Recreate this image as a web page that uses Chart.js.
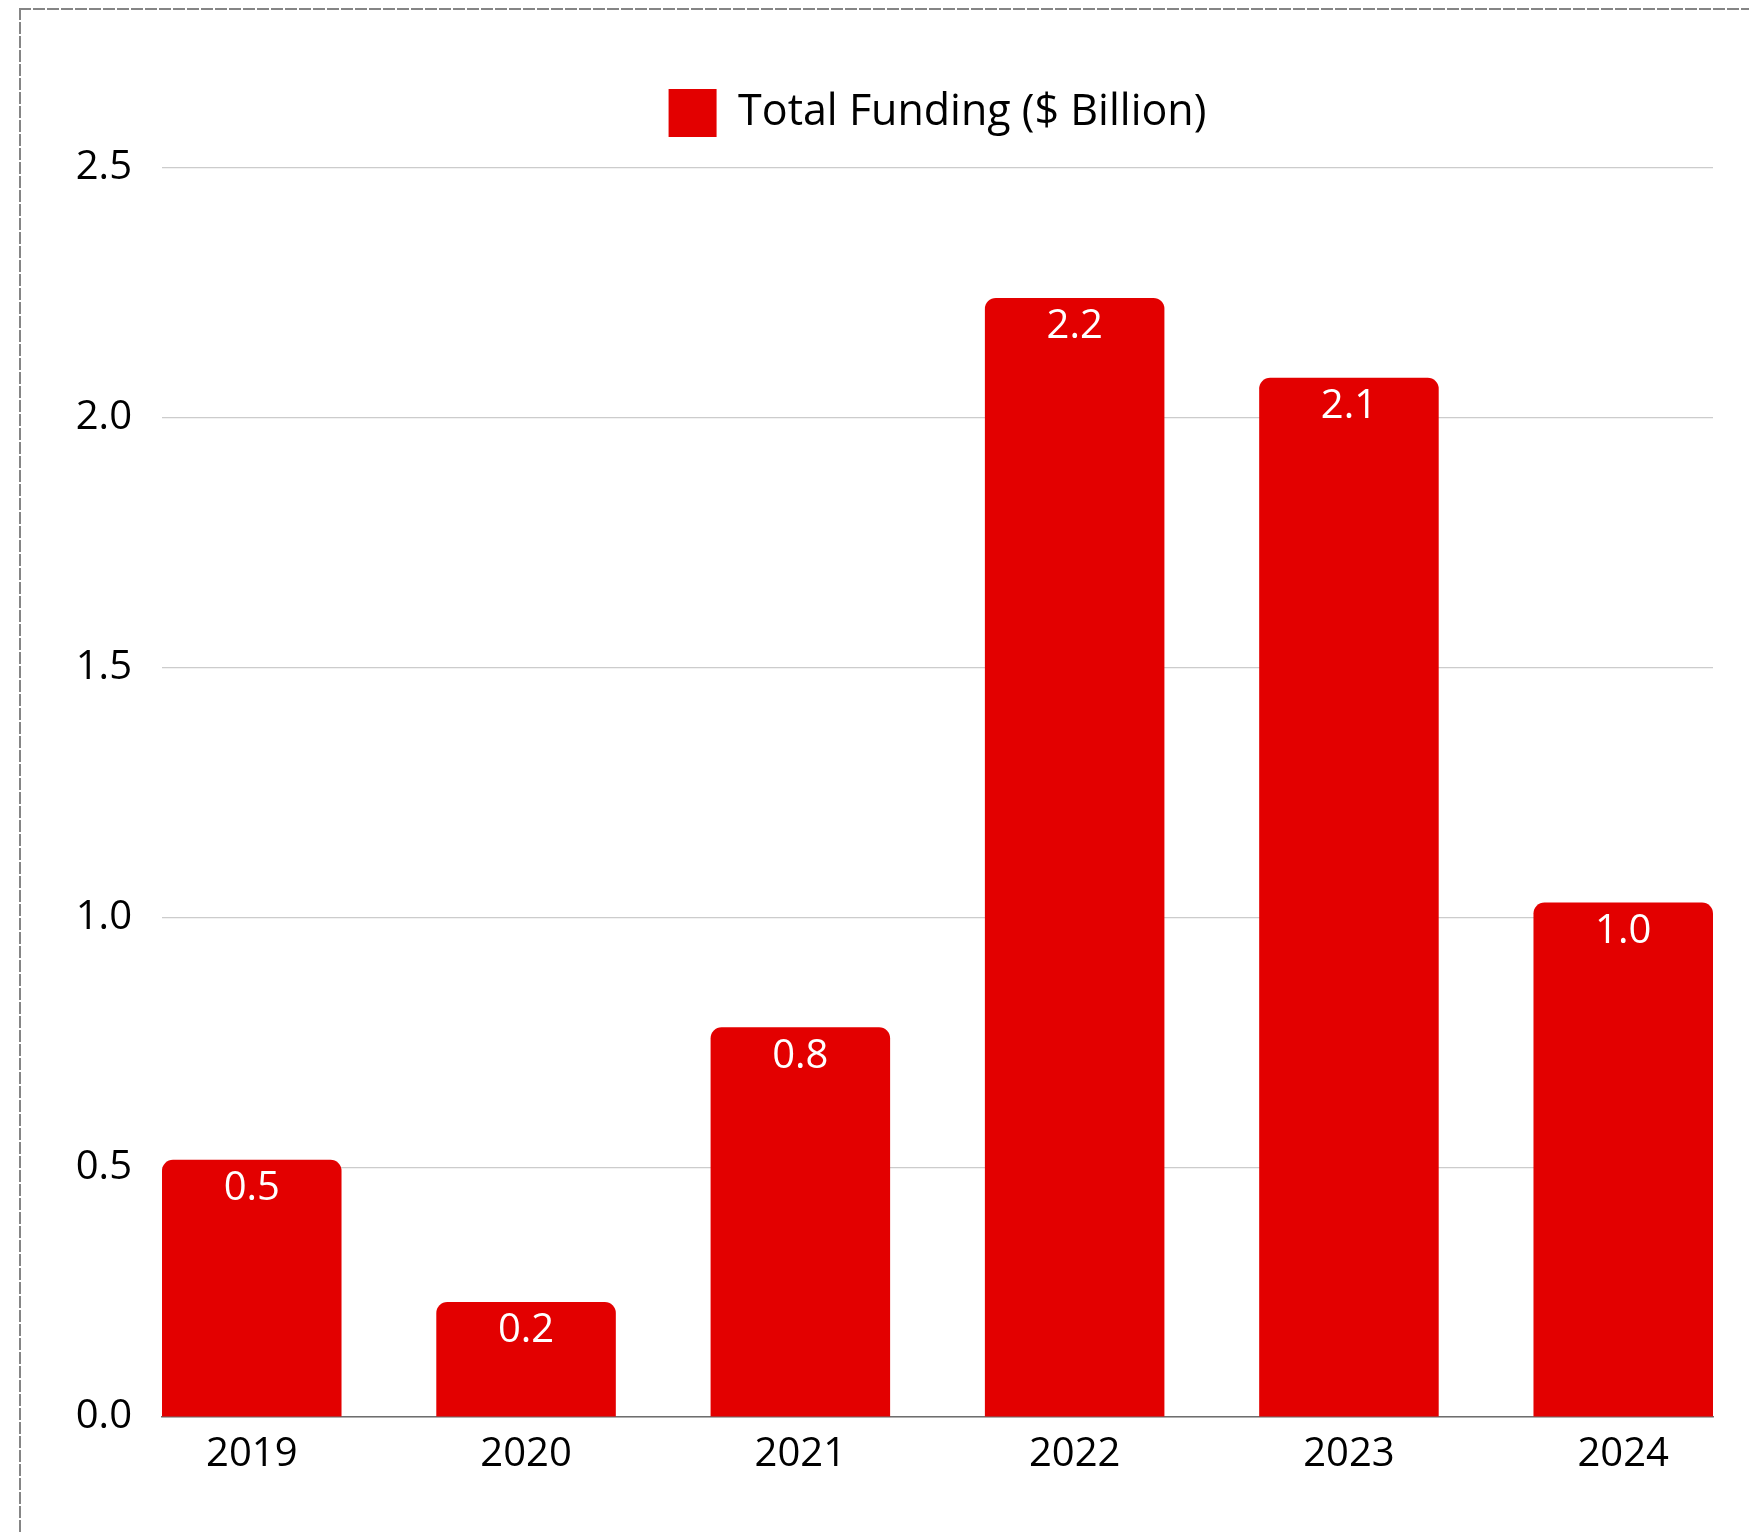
<!DOCTYPE html>
<html>
<head>
<meta charset="utf-8">
<script src="https://cdn.jsdelivr.net/npm/chart.js@4/dist/chart.umd.min.js"></script>
<style>
  html, body { margin: 0; padding: 0; background: #ffffff; width: 1749px; height: 1534px; overflow: hidden; }
  .edge { position: absolute; }
  #edgeTop { left: 19px; top: 8px; width: 1730px; height: 2px;
    background: repeating-linear-gradient(to right, #858585 0 12px, transparent 12px 14px); }
  #edgeLeft { left: 19px; top: 8px; width: 2px; height: 1526px;
    background: repeating-linear-gradient(to bottom, #858585 0 12px, transparent 12px 14px); }
  #chart { position: absolute; left: 0; top: 0; }
</style>
</head>
<body>
<div class="edge" id="edgeTop"></div>
<div class="edge" id="edgeLeft"></div>
<canvas id="chart" width="1749" height="1534"></canvas>
<script>
// Annual funding totals, in billions of dollars
const years = ['2019', '2020', '2021', '2022', '2023', '2024'];
const funding = [0.515, 0.23, 0.78, 2.24, 2.08, 1.03];
const yTicks = [0, 0.5, 1.0, 1.5, 2.0, 2.5];
const seriesLabel = 'Total Funding ($ Billion)';

const FONT = '"Open Sans", "Noto Sans", sans-serif';
const RED = '#e30000';
const BAR_FRACTION = 0.6545;   // bar width relative to the year spacing
const LEGEND_LIFT = 21;        // extra gap between the legend and the plot

// Writes each bar's value in white just inside its top edge
const valueLabels = {
  id: 'valueLabels',
  afterDatasetsDraw(chart) {
    const ctx = chart.ctx;
    const meta = chart.getDatasetMeta(0);
    ctx.save();
    ctx.fillStyle = '#ffffff';
    ctx.font = '40px ' + FONT;
    ctx.textAlign = 'center';
    ctx.textBaseline = 'middle';
    meta.data.forEach((bar, i) => {
      ctx.fillText(funding[i].toFixed(1), bar.x, bar.y + 29);
    });
    ctx.restore();
  }
};

// Raises the legend a little above the top of the plot area
const legendLift = {
  id: 'legendLift',
  afterLayout(chart) {
    if (chart.legend) {
      chart.legend.top -= LEGEND_LIFT;
      chart.legend.bottom -= LEGEND_LIFT;
    }
  }
};

new Chart(document.getElementById('chart'), {
  type: 'bar',
  data: {
    datasets: [{
      label: seriesLabel,
      data: years.map((y, i) => ({ x: i, y: funding[i] })),
      backgroundColor: RED,
      borderColor: RED,
      borderWidth: 0,
      borderSkipped: 'bottom',
      borderRadius: { topLeft: 11, topRight: 11, bottomLeft: 0, bottomRight: 0 },
      categoryPercentage: 1,
      barPercentage: BAR_FRACTION
    }]
  },
  options: {
    responsive: false,
    devicePixelRatio: 1,
    animation: false,
    layout: { padding: { top: 0, right: 36, bottom: 0, left: 0 } },
    plugins: {
      legend: {
        display: true,
        position: 'top',
        align: 'center',
        fullSize: false,
        labels: {
          boxWidth: 48,
          boxHeight: 48,
          padding: 10,
          color: '#000000',
          font: { family: FONT, size: 43 }
        }
      },
      tooltip: { enabled: false }
    },
    scales: {
      x: {
        type: 'linear',
        offset: false,
        min: -BAR_FRACTION / 2,
        max: years.length - 1 + BAR_FRACTION / 2,
        grid: { display: false, drawTicks: false },
        border: { display: true, color: '#6e6e6e', width: 1.5 },
        afterBuildTicks: (scale) => { scale.ticks = years.map((_, i) => ({ value: i })); },
        ticks: {
          includeBounds: false,
          padding: 14,
          color: '#000000',
          font: { family: FONT, size: 40 },
          callback: (v) => years[v]
        },
        afterFit: (scale) => {
          scale.height = 1534 - 1417;
          scale.paddingLeft = 0;
          scale.paddingRight = 0;
        }
      },
      y: {
        min: 0,
        max: 2.5,
        grid: { display: true, color: '#cccccc', lineWidth: 1.2, drawTicks: false },
        border: { display: false },
        afterBuildTicks: (scale) => { scale.ticks = yTicks.map(v => ({ value: v })); },
        ticks: {
          padding: 30,
          color: '#000000',
          font: { family: FONT, size: 40 },
          callback: (v) => Number(v).toFixed(1)
        },
        afterFit: (scale) => {
          scale.width = 162;
          scale.paddingTop = 168;
        }
      }
    }
  },
  plugins: [valueLabels, legendLift]
});
</script>
</body>
</html>
